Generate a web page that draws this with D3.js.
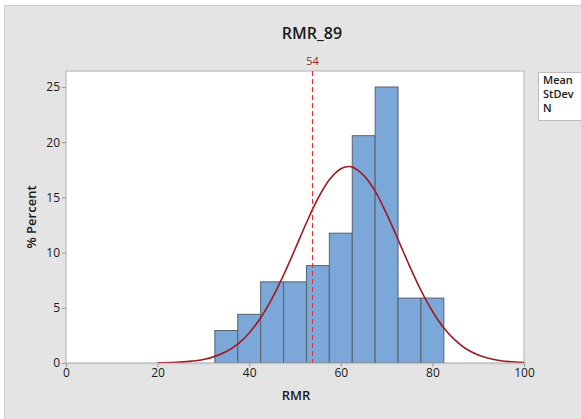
<!DOCTYPE html>
<html>
<head>
<meta charset="utf-8">
<script src="https://cdn.jsdelivr.net/npm/d3@7"></script>
<style>
  body { margin: 0; background: #fff; }
  text { font-family: "Open Sans", "Noto Sans", sans-serif; fill: #1a1a1a; }
</style>
</head>
<body>
<div id="chart"></div>
<script>
// histogram bins (RMR, bin width 5) and percent per bin
var binStarts = [32.5, 37.5, 42.5, 47.5, 52.5, 57.5, 62.5, 67.5, 72.5, 77.5];
var binPercent = [2.94, 4.41, 7.35, 7.35, 8.82, 11.76, 20.59, 25.0, 5.88, 5.88];
var binWidth = 5;

// fitted normal curve
var curveX = [20, 22.5, 25, 27.5, 30, 32.5, 35, 37.5, 40, 42.5, 45, 47.5, 50, 52.5, 55, 57.5, 60, 61.7,
              62.5, 65, 67.5, 70, 72.5, 75, 77.5, 80, 82.5, 85, 87.5, 90, 92.5, 95, 97.5, 100];
var curveY = [0.02, 0.04, 0.08, 0.17, 0.32, 0.6, 1.04, 1.72, 2.72, 4.1, 5.85, 7.97, 10.3, 12.7, 14.9, 16.6, 17.6, 17.8,
              17.76, 17.0, 15.57, 13.5, 11.18, 8.8, 6.58, 4.69, 3.17, 2.05, 1.25, 0.73, 0.41, 0.21, 0.11, 0.05];

var xTicks = [0, 20, 40, 60, 80, 100];
var yTicks = [0, 5, 10, 15, 20, 25];
var refLine = 54;
var legendLabels = ["Mean", "StDev", "N"];

function init() {
  var w = 581, h = 419;
  var left = 66, right = 524, top = 71, bottom = 363;

  var svg = d3.select("#chart").append("svg")
    .attr("width", w).attr("height", h);

  // outer frame
  svg.append("rect").attr("x", 4.5).attr("y", 5.5).attr("width", w).attr("height", h)
    .attr("fill", "#e4e4e4").attr("stroke", "#cfcfcf");

  var xScale = d3.scaleLinear().domain([0, 100]).range([left, right]);
  var yScale = d3.scaleLinear().domain([0, 25]).range([bottom, 87]);

  // plot area
  svg.append("rect")
    .attr("x", left).attr("y", top)
    .attr("width", right - left).attr("height", bottom - top)
    .attr("fill", "#fff").attr("stroke", "#c6c6c6").attr("stroke-width", 1.5);

  // bars
  svg.selectAll(".bar")
    .data(binStarts)
    .enter().append("rect")
    .attr("class", "bar")
    .attr("x", function(d) { return xScale(d); })
    .attr("width", function(d) { return xScale(d + binWidth) - xScale(d); })
    .attr("y", function(d, i) { return yScale(binPercent[i]); })
    .attr("height", function(d, i) { return yScale(0) - yScale(binPercent[i]); })
    .attr("fill", "#7ba7d9")
    .attr("stroke", "#5a606c")
    .attr("stroke-width", 1);

  // normal fit
  var line = d3.line()
    .x(function(d) { return xScale(d); })
    .y(function(d, i) { return yScale(curveY[i]); })
    .curve(d3.curveCatmullRom);

  svg.append("path")
    .datum(curveX)
    .attr("d", line)
    .attr("fill", "none")
    .attr("stroke", "#9e1b22")
    .attr("stroke-width", 1.6);

  // reference line, snapped to the pixel grid
  var refX = Math.round(xScale(refLine)) - 0.5;
  svg.append("line")
    .attr("x1", refX).attr("x2", refX)
    .attr("y1", top).attr("y2", bottom)
    .attr("stroke", "#f0262e").attr("stroke-width", 1)
    .style("stroke-dasharray", "5,3");

  svg.append("text")
    .attr("x", refX).attr("y", 65)
    .attr("text-anchor", "middle")
    .style("font-size", "11px")
    .style("fill", "#a0282a")
    .text(refLine);

  // axes
  var xAxis = d3.axisBottom(xScale).tickValues(xTicks).tickSize(4).tickPadding(1);
  var yAxis = d3.axisLeft(yScale).tickValues(yTicks).tickSize(4).tickPadding(2);

  var gx = svg.append("g")
    .attr("transform", "translate(0," + bottom + ")")
    .call(xAxis);
  gx.select(".domain").attr("stroke", "#c6c6c6").attr("stroke-width", 1.5);
  gx.selectAll(".tick line").attr("stroke", "#9a9a9a");
  gx.selectAll("text").style("font-size", "12px").style("fill", "#1a1a1a");

  var gy = svg.append("g")
    .attr("transform", "translate(" + left + ",0)")
    .call(yAxis);
  gy.select(".domain").remove();
  gy.selectAll(".tick line").attr("stroke", "#9a9a9a");
  gy.selectAll("text").style("font-size", "12px").style("fill", "#1a1a1a");

  // titles
  svg.append("text")
    .attr("x", 312).attr("y", 39)
    .attr("text-anchor", "middle")
    .style("font-size", "16px").style("font-weight", "600")
    .text("RMR_89");

  svg.append("text")
    .attr("x", 296).attr("y", 400)
    .attr("text-anchor", "middle")
    .style("font-size", "13px").style("font-weight", "600")
    .text("RMR");

  svg.append("text")
    .attr("transform", "translate(36," + ((top + bottom) / 2) + ") rotate(-90)")
    .attr("text-anchor", "middle")
    .style("font-size", "13px").style("font-weight", "600")
    .text("% Percent");

  // legend box (cut by the window edge)
  svg.append("rect")
    .attr("x", 538.5).attr("y", 72.5)
    .attr("width", 60).attr("height", 48)
    .attr("fill", "#fff").attr("stroke", "#bdbdbd");

  svg.selectAll(".leg")
    .data(legendLabels)
    .enter().append("text")
    .attr("class", "leg")
    .attr("x", 543)
    .attr("y", function(d, i) { return 84 + i * 14; })
    .style("font-size", "11px").style("font-weight", "600")
    .text(function(d) { return d; });
}

window.onload = init;
</script>
</body>
</html>
